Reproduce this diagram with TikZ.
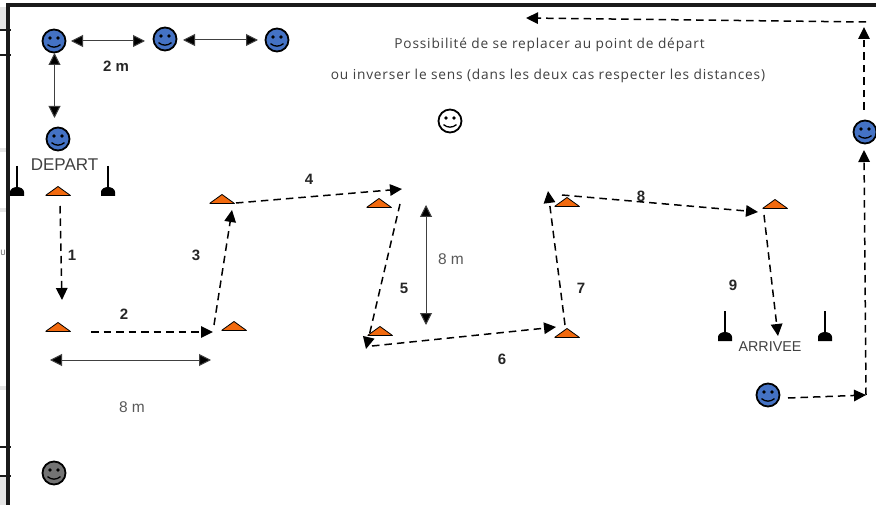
\documentclass[tikz,border=0pt]{standalone}
\usepackage{fontspec}
\setmainfont{Open Sans}[LetterSpace=6]
\newfontfamily\arialf{Liberation Sans}
\usetikzlibrary{arrows.meta}
\definecolor{faceblue}{HTML}{4472C4}
\definecolor{txtgrey}{HTML}{404040}
\definecolor{conefill}{HTML}{F26A0F}
\definecolor{framek}{HTML}{1A1A1A}
\tikzset{
 x=1pt,y=-1pt,
 smiley/.style={circle,draw=black,line width=1.8pt,minimum size=23pt,inner sep=0pt,fill=#1,
  path picture={
   \fill[black] ([xshift=-4pt,yshift=3pt]path picture bounding box.center) circle[radius=1.9pt];
   \fill[black] ([xshift=4pt,yshift=3pt]path picture bounding box.center) circle[radius=1.9pt];
   \draw[black,line width=1.3pt] ([xshift=-6.5pt,yshift=-3.6pt]path picture bounding box.center)
     .. controls ([xshift=-2.5pt,yshift=-7pt]path picture bounding box.center) and ([xshift=2.5pt,yshift=-7pt]path picture bounding box.center) .. ([xshift=6.5pt,yshift=-3.6pt]path picture bounding box.center);
  }},
 cone/.style={rectangle,inner sep=0pt,minimum width=25pt,minimum height=9pt,
  path picture={
   \fill[conefill] (path picture bounding box.south west) -- (path picture bounding box.north) -- (path picture bounding box.south east) -- cycle;
   \draw[black,line width=1.6pt] (path picture bounding box.south west) -- (path picture bounding box.south east);
   \draw[black,line width=.8pt] (path picture bounding box.south west) -- (path picture bounding box.north) -- (path picture bounding box.south east);
  }},
 dasharrow/.style={line width=1.5pt,dash pattern=on 7.5pt off 5pt,-{Triangle[length=12pt,width=11.5pt]}},
 plainarrow/.style={line width=1pt,draw=black!75,{Triangle[length=12pt,width=12pt,fill=black]}-{Triangle[length=12pt,width=12pt,fill=black]}},
 numlab/.style={font=\arialf\bfseries\fontsize{15}{17}\selectfont,text=black!85,inner sep=0pt},
 notelab/.style={font=\fontsize{13.7}{16}\selectfont,text=txtgrey,inner sep=0pt},
 measlab/.style={font=\arialf\fontsize{15.5}{17}\selectfont,text=black!65,inner sep=0pt},
 post/.style={line width=1.5pt},
 framel/.style={draw=framek,line width=4pt},
 tickl/.style={draw=framek,line width=2.6pt},
}
\begin{document}
\begin{tikzpicture}
\useasboundingbox (0,0) rectangle (876,505);
\fill[white] (0,0) rectangle (876,505);
% left margin remnants
\fill[black!10] (0,7) rectangle (7,29);
\fill[black!10] (0,148) rectangle (7,152);
\fill[black!10] (0,208) rectangle (7,212);
\fill[black!10] (0,386) rectangle (7,390);
\fill[black!10] (0,477) rectangle (7,505);
\node[font=\fontsize{7.5}{9}\selectfont,text=txtgrey,inner sep=0pt] (marg) at (3,253) {U};
\draw[framel] (8,505) -- (8,5) -- (876,5);
\foreach \y in {30,55,447,476} \draw[tickl] (0,\y) -- (11,\y);

% smileys
\node[smiley=faceblue] (p1) at (54,41) {};
\node[smiley=faceblue] (p2) at (165,39) {};
\node[smiley=faceblue] (p3) at (277,40) {};
\node[smiley=faceblue] (p4) at (58,139) {};
\node[smiley=faceblue] (p5) at (865,132) {};
\node[smiley=faceblue] (p6) at (768,395) {};
\node[smiley=black!55] (p7) at (54,473) {};
\node[smiley=white] (p8) at (450,121) {};

% cones
\node[cone] (c1) at (58,191) {};
\node[cone] (c2) at (58,327) {};
\node[cone] (c3) at (234,326) {};
\node[cone] (c4) at (222,199) {};
\node[cone] (c5) at (379,203) {};
\node[cone] (c6) at (380,331) {};
\node[cone] (c7) at (567,333) {};
\node[cone] (c8) at (567,202) {};
\node[cone] (c9) at (775,204) {};

% posts
\foreach \n/\x/\y in {a/17/166,b/108/166,c/725/311,d/825/311}{
 \coordinate (post\n) at (\x,\y);
 \coordinate (foot\n) at (\x,\y+24);
 \draw[post] (post\n) -- (foot\n);
 \fill[black] (\x-7,\y+30) -- (\x-7,\y+26) arc[start angle=180,end angle=0,x radius=7,y radius=-5] -- (\x+7,\y+30) -- cycle;
}

% double arrows
\coordinate (e1) at (71,41); \coordinate (e2) at (145,41);
\coordinate (d1) at (183,40); \coordinate (d2) at (258,40);
\coordinate (d3) at (54.5,53); \coordinate (d4) at (54.5,118);
\coordinate (d5) at (50,360); \coordinate (d6) at (211,360);
\coordinate (d7) at (426,205); \coordinate (d8) at (426,325);
\draw[plainarrow] (e1) -- (e2);
\draw[plainarrow] (d1) -- (d2);
\draw[plainarrow] (d3) -- (d4);
\draw[plainarrow] (d5) -- (d6);
\draw[plainarrow] (d7) -- (d8);

% route
\coordinate (a1) at (60,206); \coordinate (b1) at (62,300);
\coordinate (a2) at (91,332); \coordinate (b2) at (213,332);
\coordinate (a3) at (214,325); \coordinate (b3) at (232,210);
\coordinate (a4) at (236,203); \coordinate (b4) at (402,189);
\coordinate (a5) at (400,204); \coordinate (b5) at (366,349);
\coordinate (a6) at (372,346); \coordinate (b6) at (556,327);
\coordinate (a7) at (565,325); \coordinate (b7) at (548,191);
\coordinate (a8) at (562,195); \coordinate (b8) at (758,212);
\coordinate (a9) at (764,215); \coordinate (b9) at (778,336);
\coordinate (a10) at (788,398); \coordinate (b10) at (866,395);
\coordinate (b11) at (864,150);
\coordinate (a12) at (864,110); \coordinate (b12) at (864,27);
\coordinate (a13) at (866,22); \coordinate (b13) at (526,18);
\foreach \i in {1,...,10,12,13} \draw[dasharrow] (a\i) -- (b\i);
\draw[dasharrow] (b10) -- (b11);

% labels
\node[numlab] (l2m) at (116,66) {2 m};
\node[numlab] (l1) at (72,255) {1};
\node[numlab] (l2) at (124,314) {2};
\node[numlab] (l3) at (196,255) {3};
\node[numlab] (l4) at (309,179) {4};
\node[numlab] (l5) at (404,288) {5};
\node[numlab] (l6) at (502,359) {6};
\node[numlab] (l7) at (581,288) {7};
\node[numlab] (l8) at (641,196) {8};
\node[numlab] (l9) at (733,285) {9};
\node[font=\arialf\fontsize{17}{19}\selectfont,text=txtgrey,inner sep=0pt] (dep) at (64.5,165) {DEPART};
\node[measlab] (m1) at (132,407) {8 m};
\node[measlab] (m2) at (451,259) {8 m};
\node[font=\arialf\fontsize{14.3}{16}\selectfont,text=txtgrey,inner sep=0pt] (arr) at (770,347) {ARRIVEE};
\node[notelab] (n1) at (549.5,44.5) {Possibilité de se replacer au point de départ};
\node[notelab] (n2) at (548,75.5) {ou inverser le sens (dans les deux cas respecter les distances)};
\end{tikzpicture}
\end{document}
